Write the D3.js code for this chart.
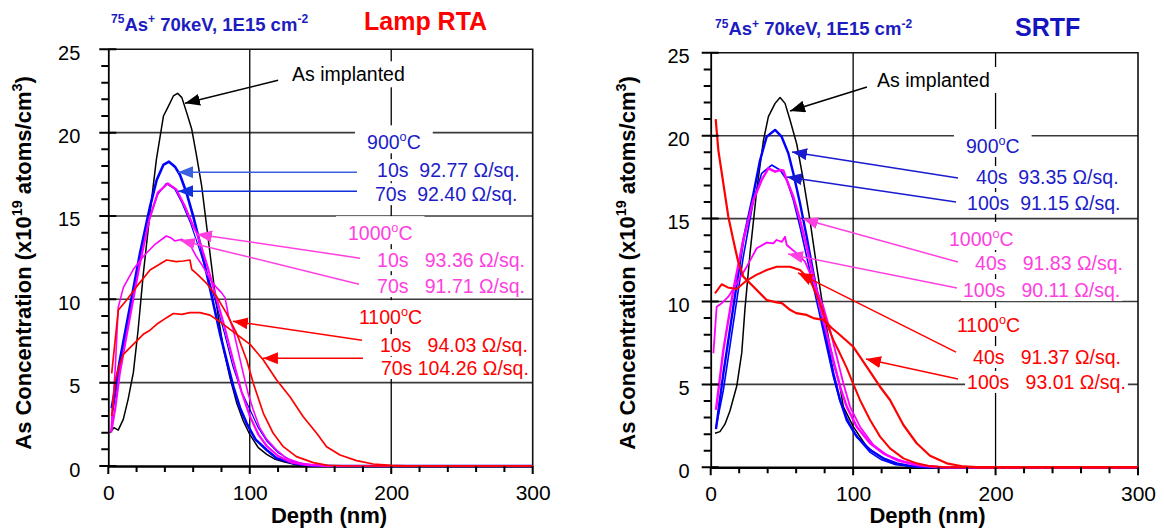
<!DOCTYPE html>
<html>
<head>
<meta charset="utf-8">
<script src="https://cdn.jsdelivr.net/npm/d3@7"></script>
<style>
  body { margin: 0; background: #fff; }
  svg { display: block; font-family: "Liberation Sans", Arial, sans-serif; }
  text { white-space: pre; }
</style>
</head>
<body>
<div id="container"></div>
<script>
let w = 1164;
let h = 531;

// axis values
const depthTicks = d3.range(0, 301, 20);
const depthLabels = [0, 100, 200, 300];
const concTicks = d3.range(0, 26, 1);
const concLabels = [0, 5, 10, 15, 20, 25];
const depthGrid = [100, 200];
const concGrid = [5, 10, 15, 20];

// ---- Lamp RTA profiles : [depth (nm), As conc (x1e19 cm-3)]
const rtaImplant = [[1,2.0],[4,2.3],[7,2.15],[10.6,2.8],[14,4.0],[17.7,5.6],[21,8.1],[24.7,11.5],[29.5,15.2],[34,18.4],[39,21.0],[42,21.5],[46,22.2],[49,22.36],[52,22.1],[55.4,21.2],[59,20.2],[62.4,18.6],[66,16.8],[69.5,14.4],[73,12.0],[76.6,9.6],[81,7.2],[86,5.3],[90.7,3.8],[95.4,2.7],[100,1.9],[106,1.1],[112,0.7],[118,0.4],[124,0.25],[133,0.08],[145,0.02],[160,0],[300,0]];
const rta900_10s = [[2.4,3.46],[8.2,6.36],[15.3,9.56],[22.4,12.76],[29.5,15.56],[34.2,17.16],[38.9,18.06],[42.9,18.26],[47.1,17.96],[50.7,17.46],[55.4,16.36],[60.1,14.96],[64.8,13.36],[69.5,11.56],[74.2,9.76],[78.9,7.96],[83.6,6.36],[88.4,4.76],[93.1,3.5],[97.8,2.56],[104,1.6],[112,0.96],[119,0.46],[133,0.12],[145,0.02],[160,0],[300,0]];
const rta900_70s = [[2.4,2.8],[8,5.8],[15,9.0],[22,12.2],[29,14.8],[35,16.3],[41,16.95],[47,16.6],[52,15.8],[58,14.6],[64,13.1],[70,11.5],[76,9.8],[82,8.0],[88,6.0],[94,4.5],[100,3.4],[106,2.3],[112,1.5],[120,0.8],[130,0.3],[140,0.1],[150,0.02],[165,0],[300,0]];
const rta1000_10s = [[2,2.0],[5,3.5],[8,5.5],[15,8.8],[22,12.0],[29,14.8],[35,16.4],[42,16.95],[48,16.6],[54,15.6],[60,14.4],[63,13.9],[70,12.0],[76,10.2],[82,8.4],[88,6.4],[94,4.5],[100,3.0],[106,1.9],[112,1.2],[120,0.6],[130,0.2],[140,0.06],[155,0],[300,0]];
const rta1000_70s = [[2,2.16],[5,6.0],[7,9.5],[10.6,10.7],[17.7,11.8],[25,12.6],[33,13.3],[41,13.8],[44,13.7],[47,13.5],[52,13.6],[57.7,13.3],[62,12.6],[67,11.96],[72,11.2],[76.6,10.7],[80,10.4],[82.5,10.1],[85,9.0],[88.4,8.16],[92,6.8],[95.4,5.56],[99,4.3],[102.5,3.36],[107,2.3],[112,1.6],[119,0.96],[126,0.46],[136,0.16],[150,0.03],[165,0],[300,0]];
const rta1100_10s = [[2.4,5.56],[7.1,9.36],[13,9.96],[20,10.76],[29.5,11.76],[41.2,12.36],[48,12.26],[53,12.3],[57.7,12.36],[59,11.8],[63,11.5],[69.5,10.96],[76.6,10.16],[83.6,9.16],[90.7,7.96],[97.8,6.36],[102.5,4.96],[109.6,3.16],[116.6,1.96],[123.7,1.16],[133,0.56],[144.9,0.2],[155,0.04],[170,0],[300,0]];
const rta1100_70s = [[2.4,3.0],[5,5.2],[8.3,6.16],[10.6,6.7],[17.7,7.3],[24.7,7.9],[29.5,8.15],[34.2,8.5],[41.2,8.9],[46,9.15],[52,9.1],[57.7,9.2],[64.8,9.2],[71.9,9.05],[79,8.65],[88.4,8.05],[100.2,7.3],[109.6,6.36],[119,5.16],[128.4,4.16],[137.8,2.96],[147.3,1.96],[154.3,1.16],[163.8,0.66],[175.5,0.32],[187.3,0.12],[200,0.04],[215,0],[300,0]];

// ---- SRTF profiles
const srtfImplant = [[3,2.05],[6.5,2.15],[10,2.6],[13.5,3.4],[18.3,4.9],[21.8,6.9],[24.1,9.6],[27.6,12.9],[32.3,16.7],[37,19.7],[40.5,21.15],[45.2,21.95],[48.7,22.3],[52.2,21.95],[55.7,20.95],[60.4,19.5],[65.1,17.3],[69.7,14.9],[74.4,12.1],[79.1,9.5],[83.8,7.3],[86.5,6.2],[90.5,5.0],[93.1,3.66],[100.1,2.45],[109.5,1.24],[118.9,0.64],[128.2,0.24],[140,0.06],[155,0],[300,0]];
const srtf900_40s = [[3.7,2.3],[8.9,5.67],[15.9,9.69],[22.9,13.71],[30,16.5],[34.6,18.5],[39.3,19.94],[45.2,20.35],[49.8,19.94],[54.5,18.94],[58,17.73],[62.7,15.92],[67.4,13.91],[72.1,11.7],[76.8,9.69],[81.4,7.68],[86.1,5.67],[90.8,4.06],[95.5,2.85],[102.5,1.85],[111.9,1.05],[121.2,0.54],[130.6,0.24],[140,0.08],[150,0],[300,0]];
const srtf900_100s = [[3.7,2.4],[8.9,4.66],[15.9,8.69],[22.9,12.7],[30,16.1],[35.8,17.73],[42.8,18.23],[48.7,17.93],[53.4,17.33],[58,16.12],[62.7,14.5],[67.4,12.7],[72.1,10.9],[76.8,9.09],[81.4,7.28],[86.1,5.47],[90.8,4.0],[95.5,3.0],[100,2.2],[106,1.5],[112,0.9],[120,0.45],[130,0.15],[145,0.03],[160,0],[300,0]];
const srtf1000_40s = [[3.7,3.46],[8.9,7.08],[15.9,10.7],[22.9,13.71],[30,16.12],[35.8,17.33],[40.5,18.03],[45.2,17.83],[48.7,17.93],[51,17.9],[53.4,17.33],[58,16.32],[62.7,14.92],[67.4,13.31],[72.1,11.5],[76.8,9.69],[81.4,8.08],[86.1,6.47],[90.8,4.87],[95.5,3.66],[102.5,2.45],[111.9,1.45],[121.2,0.84],[130.6,0.44],[144.6,0.14],[160,0],[300,0]];
const srtf1000_100s = [[1.9,6.88],[4.2,9.69],[7.7,9.89],[12.4,10.29],[18.3,11.1],[25.3,12.1],[32.3,13.21],[39.3,13.55],[44,13.5],[46.3,13.71],[50,13.6],[52.2,13.9],[53.4,13.41],[60.4,12.9],[66.2,12.4],[69.7,11.7],[74.4,10.7],[79.1,9.69],[83.8,8.28],[88.5,6.67],[93.1,5.07],[97.8,3.66],[104.8,2.45],[114.2,1.35],[123.6,0.74],[135.3,0.34],[149.3,0.1],[165,0],[300,0]];
const srtf1100_40s = [[3,10.49],[7.7,11.04],[12,10.85],[18.2,10.75],[25,11.25],[32,11.6],[39.3,11.9],[46.3,12.1],[55.7,12.1],[62.7,11.9],[69.7,11.3],[76.8,9.89],[81.4,8.69],[86.1,7.68],[90,7.0],[95.5,6.0],[100.2,5.0],[104.8,4.06],[111.9,2.85],[118.9,1.85],[125.9,1.14],[135.3,0.54],[144.6,0.24],[153,0.08],[165,0],[300,0]];
const srtf1100_100s = [[3.5,21.0],[5.4,19.1],[8.9,17.1],[12.4,15.1],[15.9,13.7],[19,12.5],[22.9,11.5],[29.9,10.9],[39.3,10.09],[46.3,9.95],[50,9.9],[55.7,9.5],[60,9.3],[67.4,9.19],[72,9.0],[79.1,8.89],[85,8.4],[90.8,7.98],[100.1,7.27],[109.5,6.07],[118.9,4.86],[125.9,4.06],[135.3,2.55],[144.6,1.45],[154,0.7],[165.7,0.24],[177.4,0.05],[190,0],[300,0]];

// ---- annotation texts
const rtaTexts = ["As implanted", "900^{o}C", "10s  92.77 \u03A9/sq.", "70s  92.40 \u03A9/sq.",
  "1000^{o}C", "10s   93.36 \u03A9/sq.", "70s   91.71 \u03A9/sq.",
  "1100^{o}C", "10s   94.03 \u03A9/sq.", "70s 104.26 \u03A9/sq."];
const srtfTexts = ["As implanted", "900^{o}C", "40s  93.35 \u03A9/sq.", "100s  91.15 \u03A9/sq.",
  "1000^{o}C", "40s   91.83 \u03A9/sq.", "100s   90.11 \u03A9/sq.",
  "1100^{o}C", "40s   91.37 \u03A9/sq.", "100s   93.01 \u03A9/sq."];

const BLUE = "#0000ff", MAG = "#ff00ff", RED = "#ff0000";
const BLUE_T = "#1c1cc8", MAG_T = "#ff3fe0";

let viz = d3.select("#container")
  .append("svg")
    .attr("width", w)
    .attr("height", h);

let defs = viz.append("defs");
let markers = {};
function arrowHead(color){
  if (markers[color]) return markers[color];
  let id = "ah" + Object.keys(markers).length;
  defs.append("marker").attr("id", id)
    .attr("markerUnits", "userSpaceOnUse")
    .attr("markerWidth", 15).attr("markerHeight", 12)
    .attr("refX", 15).attr("refY", 6).attr("orient", "auto")
    .append("path").attr("d", "M0,0L15,6L0,12Z").attr("fill", color);
  markers[color] = "url(#" + id + ")";
  return markers[color];
}

// text with ^{...} superscripts
function rich(sel, str, fs){
  let parts = str.split(/\^\{([^}]*)\}/);
  let shift = 0;
  parts.forEach((p, i) => {
    if (!p) return;
    let sup = i % 2 === 1;
    let target = sup ? -fs * 0.4 : 0;
    let t = sel.append("tspan").attr("dy", target - shift).text(p);
    if (sup) t.attr("font-size", fs * 0.65);
    shift = target;
  });
}

function drawPanel(cfg){
  let x = d3.scaleLinear().domain([0, 300]).range([cfg.left, cfg.right]);
  let y = d3.scaleLinear().domain([0, 25]).range([cfg.bottom, cfg.top]);
  let g = viz.append("g");

  // grid
  g.selectAll(".hgrid").data(concGrid).enter().append("line")
    .attr("x1", cfg.left).attr("x2", cfg.right)
    .attr("y1", d => y(d)).attr("y2", d => y(d))
    .attr("stroke", "#3a3a3a").attr("stroke-width", 1.6);
  g.selectAll(".vgrid").data(depthGrid).enter().append("line")
    .attr("x1", d => x(d)).attr("x2", d => x(d))
    .attr("y1", cfg.top).attr("y2", cfg.bottom)
    .attr("stroke", "#000").attr("stroke-width", 1.3);

  // frame top & right
  g.append("path")
    .attr("d", "M" + cfg.left + "," + cfg.top + "H" + cfg.right + "V" + cfg.bottom)
    .attr("fill", "none").attr("stroke", "#111").attr("stroke-width", 1.6);

  // y axis labels
  let yAxis = d3.axisLeft(y).tickValues(concLabels).tickSize(0)
    .tickPadding(cfg.yPad);
  let yG = g.append("g").attr("transform", "translate(" + cfg.left + ",0)").call(yAxis);
  yG.select(".domain").attr("stroke", "#000").attr("stroke-width", 1.8);
  yG.selectAll(".tick text").attr("font-size", 20).attr("fill", "#000")
    .attr("font-family", "Liberation Sans, Arial, sans-serif").attr("dy", "0.5em");

  // x axis labels
  let xAxis = d3.axisBottom(x).tickValues(depthLabels).tickSize(0)
    .tickPadding(19);
  let xG = g.append("g").attr("transform", "translate(0," + cfg.bottom + ")").call(xAxis);
  xG.select(".domain").attr("stroke", "#000").attr("stroke-width", 2.4);
  xG.selectAll(".tick text").attr("font-size", 21).attr("fill", "#000")
    .attr("font-family", "Liberation Sans, Arial, sans-serif");

  // axis titles
  g.append("text").attr("x", cfg.xLabelX).attr("y", 523)
    .attr("text-anchor", "middle").attr("font-size", 22).attr("font-weight", "bold")
    .text("Depth (nm)");
  let yl = g.append("text")
    .attr("transform", "translate(" + cfg.yLabelX + "," + 263 + ") rotate(-90)")
    .attr("text-anchor", "middle").attr("font-size", 22).attr("font-weight", "bold");
  rich(yl, "As Concentration (x10^{19} atoms/cm^{3})", 22);

  // profiles
  let line = d3.line().x(d => x(d[0])).y(d => y(d[1]));
  g.selectAll(".profile").data(cfg.series).enter().append("path")
    .attr("d", d => line(d.data))
    .attr("fill", "none")
    .attr("stroke", d => d.color)
    .attr("stroke-width", d => d.width)
    .attr("stroke-linejoin", "round");

  // tick marks as one path each axis
  let yTickD = concTicks.map(d => {
    let yy = y(d);
    return "M" + (cfg.left - (d % 5 === 0 ? 9 : 7)) + "," + yy + "H" + (cfg.left + (d % 5 === 0 ? 8 : 0));
  }).join("");
  g.append("path").attr("d", yTickD).attr("fill", "none")
    .attr("stroke", "#000").attr("stroke-width", 2);
  let xTickD = depthTicks.map(d => {
    let xx = x(d);
    return "M" + xx + "," + cfg.bottom + "V" + (cfg.bottom + (d % 100 === 0 ? 8 : 6));
  }).join("");
  g.append("path").attr("d", xTickD).attr("fill", "none")
    .attr("stroke", "#000").attr("stroke-width", 2);

  // notes
  let boxG = g.append("g");
  let textG = g.append("g");
  let fs = 19.5;
  cfg.notes.forEach((n, i) => {
    let t = textG.append("text")
      .attr("x", x(n.d)).attr("y", y(n.c) + fs * 0.35)
      .attr("font-size", fs).attr("fill", n.color);
    rich(t, cfg.texts[i], fs);
    let b = t.node().getBBox();
    let pad = n.kind === "head" ? [12, 17, 11] : n.kind === "plain" ? [8, 13, 13] : [2, 11, 11];
    boxG.append("rect")
      .attr("x", b.x - pad[0]).attr("width", b.width + 2 * pad[0])
      .attr("y", y(n.c) - pad[1]).attr("height", pad[1] + pad[2])
      .attr("fill", "#fff");
  });

  // arrows
  g.selectAll(".arrow").data(cfg.arrows).enter().append("line")
    .attr("x1", d => x(d.from[0])).attr("y1", d => y(d.from[1]))
    .attr("x2", d => x(d.to[0])).attr("y2", d => y(d.to[1]))
    .attr("stroke", d => d.color).attr("stroke-width", 1.5)
    .attr("marker-end", d => arrowHead(d.color));

  // titles
  let tt = viz.append("text").attr("x", cfg.titleX).attr("y", cfg.titleY)
    .attr("font-size", 18.5).attr("font-weight", "bold").attr("fill", "#1c1cc0");
  rich(tt, "^{75}As^{+} 70keV, 1E15 cm^{-2}", 18.5);
  viz.append("text").attr("x", cfg.nameX).attr("y", cfg.nameY)
    .attr("font-size", 25).attr("font-weight", "bold").attr("fill", cfg.nameColor)
    .text(cfg.name);
}

drawPanel({
  left: 108.3, right: 532.7, top: 49.3, bottom: 466,
  yPad: 28, yLabelX: 31, xLabelX: 329,
  titleX: 111, titleY: 30.5, name: "Lamp RTA", nameX: 364, nameY: 30, nameColor: "#ff0000",
  series: [
    {data: rtaImplant, color: "#000", width: 1.5},
    {data: rta900_70s, color: BLUE, width: 1.2},
    {data: rta900_10s, color: BLUE, width: 2.6},
    {data: rta1000_70s, color: MAG, width: 1.6},
    {data: rta1000_10s, color: MAG, width: 2.2},
    {data: rta1100_10s, color: RED, width: 1.7},
    {data: rta1100_70s, color: RED, width: 1.7}
  ],
  texts: rtaTexts,
  notes: [
    {d: 129.9, c: 23.5, color: "#000", kind: "plain"},
    {d: 182.9, c: 19.42, color: BLUE_T, kind: "head"},
    {d: 190, c: 17.75, color: BLUE_T},
    {d: 188.5, c: 16.31, color: BLUE_T},
    {d: 169.4, c: 13.97, color: MAG_T, kind: "head"},
    {d: 190, c: 12.35, color: MAG_T},
    {d: 190, c: 10.79, color: MAG_T},
    {d: 177.2, c: 8.93, color: RED, kind: "head"},
    {d: 192, c: 7.25, color: RED},
    {d: 192.7, c: 5.88, color: RED}
  ],
  arrows: [
    {from: [120, 23.14], to: [54.2, 21.76], color: "#000"},
    {from: [175.8, 17.63], to: [49.3, 17.63], color: "#3a5fe0"},
    {from: [175.8, 16.49], to: [49.3, 16.49], color: "#1030e0"},
    {from: [177.9, 12.47], to: [62.7, 13.91], color: MAG_T},
    {from: [177.2, 10.91], to: [50.7, 13.55], color: MAG_T},
    {from: [179.3, 7.55], to: [88.1, 8.69], color: RED},
    {from: [180, 6.47], to: [109.3, 6.47], color: RED}
  ]
});

drawPanel({
  left: 710.7, right: 1138, top: 52.8, bottom: 467.3,
  yPad: 21, yLabelX: 635, xLabelX: 927.5,
  titleX: 715, titleY: 35, name: "SRTF", nameX: 1015, nameY: 36, nameColor: "#1515c0",
  series: [
    {data: srtfImplant, color: "#000", width: 1.5},
    {data: srtf900_100s, color: BLUE, width: 1.6},
    {data: srtf900_40s, color: BLUE, width: 2.4},
    {data: srtf1000_100s, color: MAG, width: 1.8},
    {data: srtf1000_40s, color: MAG, width: 2.4},
    {data: srtf1100_40s, color: RED, width: 2.0},
    {data: srtf1100_100s, color: RED, width: 2.2}
  ],
  texts: srtfTexts,
  notes: [
    {d: 116.8, c: 23.36, color: "#000", kind: "plain"},
    {d: 179.2, c: 19.38, color: BLUE_T, kind: "head"},
    {d: 186.3, c: 17.51, color: BLUE_T},
    {d: 180, c: 15.94, color: BLUE_T},
    {d: 167.3, c: 13.77, color: MAG_T, kind: "head"},
    {d: 185.6, c: 12.32, color: MAG_T},
    {d: 177.1, c: 10.69, color: MAG_T},
    {d: 172.9, c: 8.58, color: RED, kind: "head"},
    {d: 184.2, c: 6.65, color: RED},
    {d: 180, c: 5.15, color: RED}
  ],
  arrows: [
    {from: [109.7, 22.94], to: [55.7, 21.49], color: "#000"},
    {from: [173.6, 17.45], to: [57.1, 19.02], color: "#1a1ad0"},
    {from: [172.2, 16.0], to: [53.6, 17.51], color: "#1a1ad0"},
    {from: [173.6, 12.38], to: [64.8, 14.98], color: MAG_T},
    {from: [172.9, 10.81], to: [54.3, 12.86], color: MAG_T},
    {from: [172.2, 6.95], to: [61.3, 11.73], color: RED},
    {from: [173.6, 5.33], to: [109, 6.53], color: RED}
  ]
});
</script>
</body>
</html>
